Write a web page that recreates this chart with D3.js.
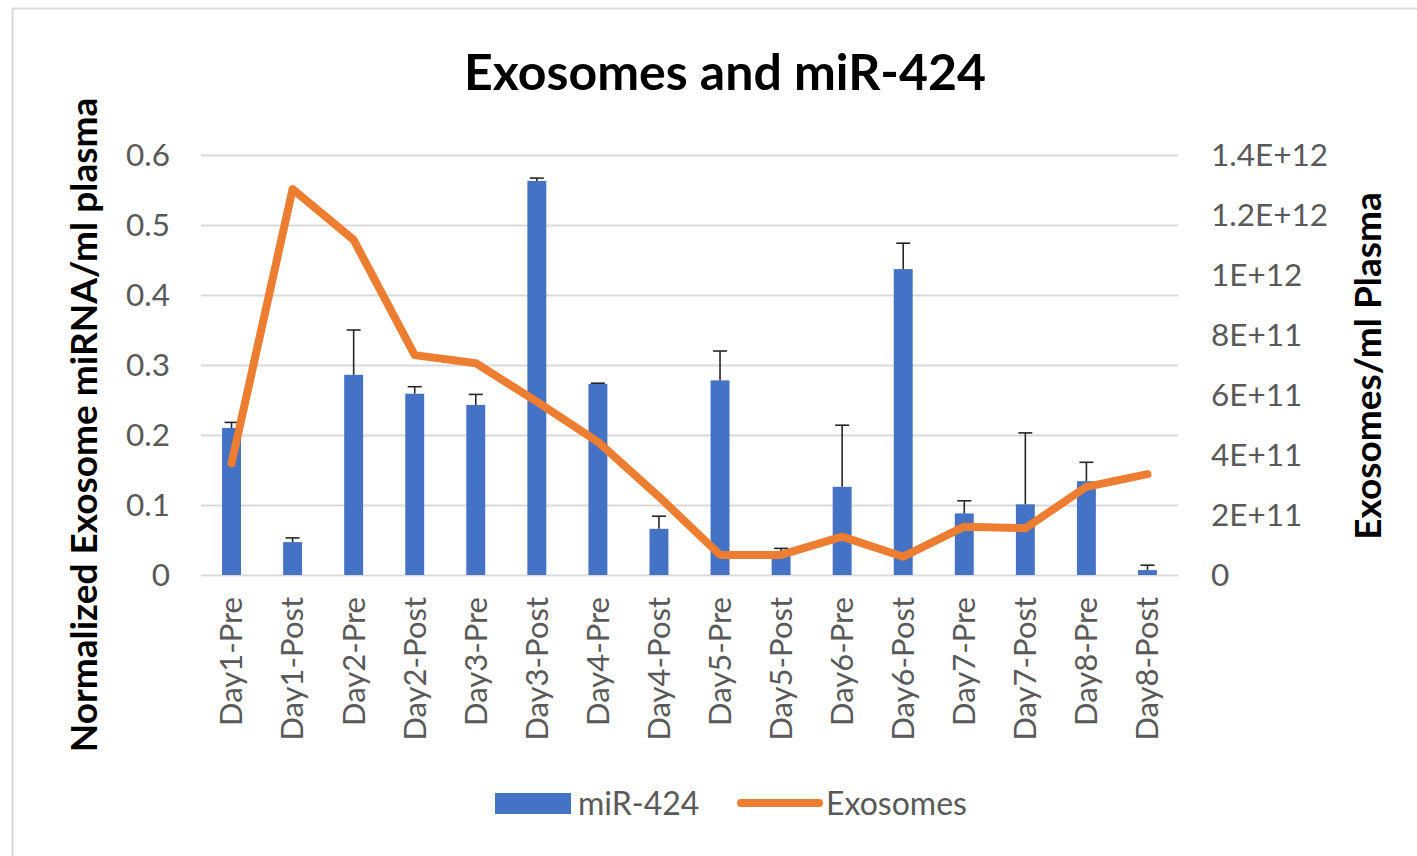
<!DOCTYPE html>
<html>
<head>
<meta charset="utf-8">
<script src="https://cdn.jsdelivr.net/npm/d3@7"></script>
<style>
  html, body { margin: 0; padding: 0; background: #fff; }
  svg { display: block; }
</style>
</head>
<body>
<script>
const categories = ["Day1-Pre","Day1-Post","Day2-Pre","Day2-Post","Day3-Pre","Day3-Post","Day4-Pre","Day4-Post","Day5-Pre","Day5-Post","Day6-Pre","Day6-Post","Day7-Pre","Day7-Post","Day8-Pre","Day8-Post"];
const mir424 = [0.21, 0.047, 0.286, 0.259, 0.243, 0.563, 0.273, 0.066, 0.278, 0.033, 0.126, 0.437, 0.088, 0.101, 0.134, 0.007];
const mir424Err = [0.008, 0.006, 0.064, 0.010, 0.015, 0.004, 0.001, 0.018, 0.042, 0.005, 0.088, 0.037, 0.018, 0.102, 0.027, 0.007];
const exosomes = [3.72e11, 12.86e11, 11.17e11, 7.33e11, 7.06e11, 5.78e11, 4.44e11, 2.61e11, 0.67e11, 0.67e11, 1.28e11, 0.61e11, 1.61e11, 1.56e11, 2.94e11, 3.36e11];
const leftTicks = [0, 0.1, 0.2, 0.3, 0.4, 0.5, 0.6];
const rightTicks = [0, 2e11, 4e11, 6e11, 8e11, 1e12, 1.2e12, 1.4e12];
const rightTickLabels = ["0","2E+11","4E+11","6E+11","8E+11","1E+12","1.2E+12","1.4E+12"];

const W = 1417, H = 856;
const FONT = "Lato, 'Open Sans', sans-serif";
const plot = {left: 201, right: 1178, top: 155, bottom: 575};

const svg = d3.select("body").append("svg").attr("width", W).attr("height", H);
svg.append("rect").attr("width", W).attr("height", H).attr("fill", "#fff");
// chart frame
svg.append("rect").attr("x", 12.5).attr("y", 8.5).attr("width", W + 20).attr("height", H + 20)
  .attr("fill", "none").attr("stroke", "#d9d9d9").attr("stroke-width", 2);

const x = d3.scaleBand().domain(categories).range([plot.left, plot.right]).paddingInner(0.69).paddingOuter(0.345);
const y = d3.scaleLinear().domain([0, 0.6]).range([plot.bottom, plot.top]);
const y2 = d3.scaleLinear().domain([0, 1.4e12]).range([plot.bottom, plot.top]);

// gridlines
const grid = svg.append("g").attr("transform", `translate(${plot.left},0)`)
  .call(d3.axisLeft(y).tickValues(leftTicks).tickSize(-(plot.right - plot.left)).tickFormat(""));
grid.select(".domain").remove();
grid.selectAll(".tick line").attr("stroke", "#d9d9d9").attr("stroke-width", 2);

// left axis labels
const ax = svg.append("g").attr("transform", `translate(${plot.left},0)`)
  .call(d3.axisLeft(y).tickValues(leftTicks).tickSize(0).tickPadding(31).tickFormat(d => d3.format("")(d)));
ax.select(".domain").remove();
ax.selectAll("text").attr("font-family", FONT).attr("font-size", 31.5).attr("fill", "#595959");

// right axis labels
const ax2 = svg.append("g").attr("transform", `translate(${plot.right},0)`)
  .call(d3.axisRight(y2).tickValues(rightTicks).tickSize(0).tickPadding(33).tickFormat((d, i) => rightTickLabels[i]));
ax2.select(".domain").remove();
ax2.selectAll("text").attr("font-family", FONT).attr("font-size", 31.5).attr("fill", "#595959");

// x axis labels
const axx = svg.append("g").attr("transform", `translate(0,${plot.bottom})`)
  .call(d3.axisBottom(x).tickSize(0).tickPadding(0));
axx.select(".domain").remove();
axx.selectAll("text")
  .attr("font-family", FONT).attr("font-size", 31).attr("fill", "#595959")
  .attr("transform", "translate(0,22) rotate(-90)")
  .attr("text-anchor", "end").attr("dy", "0.35em").attr("y", 0).attr("x", 0);

// bars
svg.append("g").selectAll("rect").data(categories).join("rect")
  .attr("x", d => x(d)).attr("width", x.bandwidth())
  .attr("y", (d, i) => y(mir424[i])).attr("height", (d, i) => y(0) - y(mir424[i]))
  .attr("fill", "#4472C4");

// error bars
const eg = svg.append("g").attr("stroke", "#262626").attr("stroke-width", 1.6);
categories.forEach((c, i) => {
  const cx = x(c) + x.bandwidth() / 2;
  eg.append("line").attr("x1", cx).attr("x2", cx).attr("y1", y(mir424[i])).attr("y2", y(mir424[i] + mir424Err[i]));
  eg.append("line").attr("x1", cx - 7).attr("x2", cx + 7).attr("y1", y(mir424[i] + mir424Err[i])).attr("y2", y(mir424[i] + mir424Err[i]));
});

// line
const line = d3.line().x((d, i) => x(categories[i]) + x.bandwidth() / 2).y(d => y2(d));
svg.append("path").datum(exosomes).attr("d", line)
  .attr("fill", "none").attr("stroke", "#ED7D31").attr("stroke-width", 8)
  .attr("stroke-linejoin", "round").attr("stroke-linecap", "round");

// title
svg.append("text").attr("x", 725).attr("y", 90).attr("text-anchor", "middle")
  .attr("font-family", FONT).attr("font-weight", "bold").attr("font-size", 50).attr("fill", "#000")
  .text("Exosomes and miR-424");

// axis titles
svg.append("text").attr("transform", "translate(97,425) rotate(-90)").attr("text-anchor", "middle")
  .attr("font-family", FONT).attr("font-weight", "bold").attr("font-size", 37).attr("fill", "#000")
  .text("Normalized Exosome miRNA/ml plasma");
svg.append("text").attr("transform", "translate(1381,366) rotate(-90)").attr("text-anchor", "middle")
  .attr("font-family", FONT).attr("font-weight", "bold").attr("font-size", 37).attr("fill", "#000")
  .text("Exosomes/ml Plasma");

// legend
const lg = svg.append("g");
lg.append("rect").attr("x", 495).attr("y", 793).attr("width", 76).attr("height", 21).attr("fill", "#4472C4");
lg.append("text").attr("x", 578).attr("y", 815).attr("font-family", FONT).attr("font-size", 32).attr("fill", "#595959").text("miR-424");
lg.append("line").attr("x1", 741).attr("x2", 819).attr("y1", 803).attr("y2", 803)
  .attr("stroke", "#ED7D31").attr("stroke-width", 8).attr("stroke-linecap", "round");
lg.append("text").attr("x", 826).attr("y", 815).attr("font-family", FONT).attr("font-size", 32).attr("fill", "#595959").text("Exosomes");
</script>
</body>
</html>
